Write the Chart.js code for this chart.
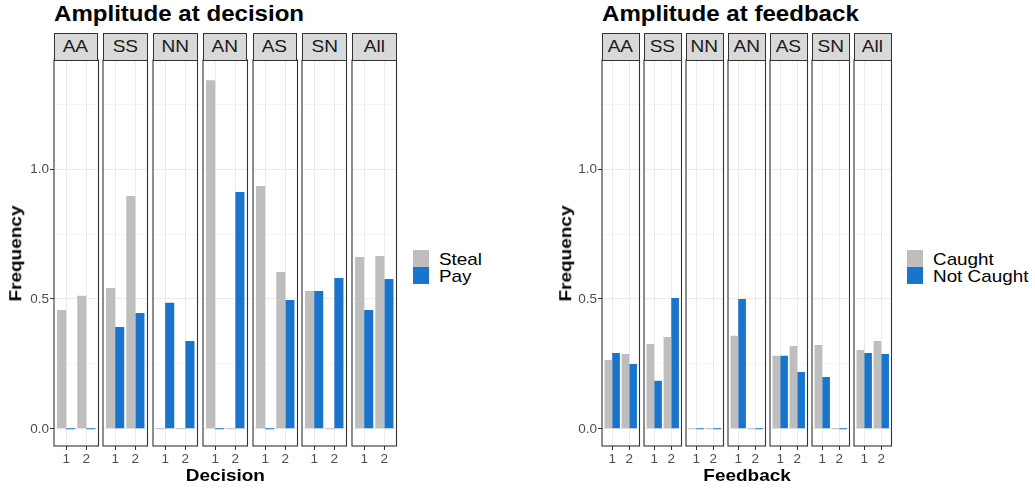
<!DOCTYPE html>
<html>
<head>
<meta charset="utf-8">
<script src="https://cdn.jsdelivr.net/npm/chart.js@4.4.1/dist/chart.umd.min.js"></script>
<style>
  body { margin: 0; width: 1035px; height: 489px; background: #fff; position: relative; overflow: hidden;
         font-family: "Liberation Sans", Arial, sans-serif; }
  .abs { position: absolute; }
  canvas { position: absolute; }
  .title { font-weight: bold; font-size: 22px; color: #000; white-space: nowrap;
           transform: scaleX(1.094); transform-origin: left center; }
  .strip { background: #d9d9d9; border: 1px solid #333; box-sizing: border-box; text-align: center;
           color: #1a1a1a; font-size: 17px; line-height: 25px; white-space: nowrap; }
  .strip span { display: inline-block; transform: scaleX(1.12); }
  .axtitle { font-weight: bold; font-size: 16.5px; color: #000; white-space: nowrap; }
  .key { width: 16px; height: 17px; }
  .legtext { font-size: 17px; line-height: 17px; color: #000; white-space: nowrap;
             transform: scaleX(1.11); transform-origin: left center; }
</style>
</head>
<body>
<script>
// facettes et valeurs
const facets = ['AA', 'SS', 'NN', 'AN', 'AS', 'SN', 'All'];
const xLabels = ['1', '2'];
const yMajor = [0, 0.5, 1.0];
const yTickLabels = ['0.0', '0.5', '1.0'];
const yMinor = [0.25, 0.75, 1.25];

// Amplitude at decision
const decisionSteal = [[0.458, 0.512], [0.542, 0.896], [0, 0], [1.342, 0], [0.935, 0.604], [0.531, 0], [0.662, 0.665]];
const decisionPay   = [[0, 0], [0.392, 0.446], [0.485, 0.338], [0, 0.912], [0, 0.496], [0.531, 0.581], [0.458, 0.577]];

// Amplitude at feedback
const feedbackCaught    = [[0.265, 0.288], [0.327, 0.354], [0, 0], [0.358, 0], [0.281, 0.319], [0.323, 0], [0.304, 0.338]];
const feedbackNotCaught = [[0.292, 0.250], [0.185, 0.504], [0, 0], [0.500, 0], [0.281, 0.219], [0.200, 0], [0.292, 0.288]];

const GREY = '#BEBEBE';
const BLUE = '#1874CD';
const FONT = '"Liberation Sans", Arial, sans-serif';

// contour du panneau (theme_bw)
const panelBorder = {
    id: 'panelBorder',
    afterDraw(chart) {
        const a = chart.chartArea, c = chart.ctx;
        c.save();
        c.strokeStyle = '#333333';
        c.lineWidth = 1.1;
        c.strokeRect(a.left, a.top, a.right - a.left, a.bottom - a.top);
        c.restore();
    }
};

function addDiv(cls, text, style) {
    const d = document.createElement('div');
    d.className = 'abs ' + cls;
    d.textContent = text;
    Object.assign(d.style, style);
    document.body.appendChild(d);
    return d;
}

function makePanel(side, i, serieA, serieB) {
    const first = i === 0;
    const yW = first ? 34 : 0;
    const left = side.x0 + i * side.step;
    const padL = 2, padR = 2;
    const cw = Math.ceil(side.w + yW + padL + padR);
    const canvas = document.createElement('canvas');
    canvas.width = cw;
    canvas.height = 422;
    canvas.style.left = (left - yW - padL) + 'px';
    canvas.style.top = '50px';
    document.body.appendChild(canvas);

    const strip = addDiv('strip', '', { left: left + 'px', top: '33px', width: side.w + 'px', height: '27.5px' });
    const sp = document.createElement('span');
    sp.textContent = facets[i];
    strip.appendChild(sp);

    new Chart(canvas, {
        type: 'bar',
        data: {
            datasets: [
                { label: side.names[0], data: xLabels.map((l, k) => ({ x: k + 1, y: serieA[i][k] })), backgroundColor: GREY },
                { label: side.names[1], data: xLabels.map((l, k) => ({ x: k + 1, y: serieB[i][k] })), backgroundColor: BLUE }
            ]
        },
        options: {
            responsive: false,
            animation: false,
            events: [],
            layout: { padding: { left: padL, right: cw - (side.w + yW + padL), top: 10, bottom: 0 } },
            plugins: { legend: { display: false }, tooltip: { enabled: false } },
            datasets: { bar: { categoryPercentage: 0.9, barPercentage: 1, minBarLength: 1 } },
            scales: {
                x: {
                    type: 'linear', min: 0.4, max: 2.6, offset: false,
                    afterBuildTicks: s => { s.ticks = xLabels.map((l, k) => ({ value: k + 1 })); },
                    afterFit: s => { s.height = 26; },
                    ticks: { callback: (v, idx) => xLabels[idx], color: '#4d4d4d', font: { size: 13.5, family: FONT }, padding: 1, maxRotation: 0 },
                    grid: { offset: false, color: '#ebebeb', lineWidth: 1, tickColor: '#333333', tickLength: 4, tickWidth: 1 },
                    border: { display: false }
                },
                y: {
                    min: -0.066, max: 1.42,
                    afterBuildTicks: s => { s.ticks = yMajor.concat(yMinor).map(v => ({ value: v })); },
                    afterFit: s => { s.width = yW; },
                    ticks: {
                        display: first,
                        callback: v => { const k = yMajor.indexOf(v); return k >= 0 ? yTickLabels[k] : ''; },
                        color: '#4d4d4d', font: { size: 13.5, family: FONT }, padding: 1
                    },
                    grid: {
                        color: '#ebebeb',
                        lineWidth: ctx => yMajor.includes(ctx.tick.value) ? 1 : 0.5,
                        drawTicks: first,
                        tickColor: ctx => yMajor.includes(ctx.tick.value) ? '#333333' : 'rgba(0,0,0,0)',
                        tickLength: 4, tickWidth: 1
                    },
                    border: { display: false }
                }
            }
        },
        plugins: [panelBorder]
    });
}

function makeSide(side, serieA, serieB) {
    facets.forEach((f, i) => makePanel(side, i, serieA, serieB));
    addDiv('title', side.title, { left: side.x0 + 'px', top: '1px' });
    const right = side.x0 + 6 * side.step + side.w;
    const xt = addDiv('axtitle', side.xTitle, { top: '466px' });
    xt.style.left = ((side.x0 + right) / 2 - xt.offsetWidth / 2) + 'px';
    xt.style.transform = 'scaleX(1.15)';
    const yt = addDiv('axtitle', 'Frequency', { top: '0px' });
    yt.style.left = (side.yTitleX - yt.offsetWidth / 2) + 'px';
    yt.style.top = (253 - yt.offsetHeight / 2) + 'px';
    yt.style.transform = 'rotate(-90deg) scaleX(1.15)';
    addDiv('key', '', { left: side.legX + 'px', top: '250px', background: GREY });
    addDiv('key', '', { left: side.legX + 'px', top: '267px', background: BLUE });
    addDiv('legtext', side.names[0], { left: (side.legX + 26) + 'px', top: '251px' });
    addDiv('legtext', side.names[1], { left: (side.legX + 26) + 'px', top: '268px' });
}

makeSide({ x0: 53.5, step: 49.75, w: 44.5, title: 'Amplitude at decision', xTitle: 'Decision',
           names: ['Steal', 'Pay'], yTitleX: 15.5, legX: 413 }, decisionSteal, decisionPay);
makeSide({ x0: 602, step: 42, w: 37.5, title: 'Amplitude at feedback', xTitle: 'Feedback',
           names: ['Caught', 'Not Caught'], yTitleX: 565, legX: 907 }, feedbackCaught, feedbackNotCaught);
</script>
</body>
</html>
